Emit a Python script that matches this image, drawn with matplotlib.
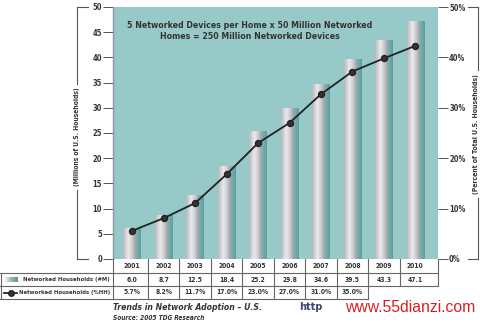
import numpy as np
import matplotlib
matplotlib.use("Agg")
import matplotlib.pyplot as plt
from matplotlib import font_manager
from matplotlib.colors import LinearSegmentedColormap
from matplotlib import transforms
from matplotlib.lines import Line2D

# condensed face if one is installed, Roboto otherwise
condensed = any(f.name == 'DejaVu Sans' and f.stretch == 'condensed'
                for f in font_manager.fontManager.ttflist)
if condensed:
    plt.rcParams['font.family'] = ['DejaVu Sans']
    plt.rcParams['font.stretch'] = 'condensed'
else:
    plt.rcParams['font.family'] = ['Roboto', 'DejaVu Sans']

# data
years = ['2001', '2002', '2003', '2004', '2005', '2006', '2007', '2008', '2009', '2010']
households_m = [6.0, 8.7, 12.5, 18.4, 25.2, 29.8, 34.6, 39.5, 43.3, 47.1]
# percent line as drawn in the chart
households_pct = [5.6, 8.1, 11.1, 16.8, 23.0, 27.0, 32.7, 37.2, 39.8, 42.3]
# table labels for percent row
pct_labels = ['5.7%', '8.2%', '11.7%', '17.0%', '23.0%', '27.0%', '31.0%', '35.0%', '', '']
left_ticks = list(range(0, 55, 5))
right_ticks = ['0%', '10%', '20%', '30%', '40%', '50%']

W, H = 480, 322
fig = plt.figure(figsize=(W / 100, H / 100), dpi=100)
fig.patch.set_facecolor('white')
renderer = fig.canvas.get_renderer()
TXT = '#333333'


def fx(px):
    return px / W


def fy(py):
    return 1 - py / H


def fit(t, target, vertical=False):
    # scale a text so its drawn length is `target` pixels
    bb = t.get_window_extent(renderer=renderer)
    cur = bb.height if vertical else bb.width
    t.set_fontsize(t.get_fontsize() * target / cur)
    return t.get_fontsize()


def size_for(s, target, **kw):
    t = fig.text(0, 0, s, fontsize=10, **kw)
    size = fit(t, target)
    t.remove()
    return size


def bracket(xb, xs, label):
    # vertical bracket line broken around the rotated label
    bb = label.get_window_extent(renderer=renderer)
    top, bot = H - bb.y1 - 4, H - bb.y0 + 4
    for a, b in ((7, top), (bot, 259)):
        fig.add_artist(Line2D([fx(xb), fx(xb)], [fy(a), fy(b)], color='#555555', lw=0.8))
    for yy in (7, 259):
        fig.add_artist(Line2D([fx(xb), fx(xs)], [fy(yy), fy(yy)], color='#555555', lw=0.8))


ax = fig.add_axes([fx(113), fy(259), (438 - 113) / W, (259 - 7) / H])
ax.set_facecolor('#98c9c9')
x = np.arange(len(years))

# bars: gradient cylinder with teal shade on the right
bar_cmap = LinearSegmentedColormap.from_list('bar', [
    (0.0, '#b9b8bc'), (0.3, '#eceaee'), (0.55, '#c4c3c6'),
    (0.68, '#a3a5a7'), (0.72, '#7fb1b0'), (1.0, '#5f9e9c')])
grad = np.linspace(0, 1, 64).reshape(1, -1)
bw = 0.56
for xi, h in zip(x, households_m):
    ax.imshow(grad, cmap=bar_cmap, aspect='auto', interpolation='bilinear',
              extent=[xi - bw / 2, xi + bw / 2, 0, h], zorder=2)
ax.set_xlim(-0.61, 9.72)
ax.set_ylim(0, 50)

# percent line (same 0-50 scale)
ax.plot(x, households_pct, color='#222222', lw=1.3, marker='o', ms=4.3,
        mfc='#333333', mec='#222222', zorder=4)

tick_fs = size_for('50', 9.5, fontweight='bold')
ax.set_yticks(left_ticks)
ax.set_yticklabels([str(t) for t in left_ticks], fontsize=tick_fs, fontweight='bold', color=TXT)
ax.tick_params(axis='y', length=7, width=0.7, color='#555555', pad=1)
ax.set_xticks([])
for s in ['top', 'right', 'bottom']:
    ax.spines[s].set_visible(False)
ax.spines['left'].set_color('#8a9a9a')
ax.spines['left'].set_linewidth(1.0)

ax2 = ax.twinx()
ax2.set_ylim(0, 50)
ax2.set_yticks(range(0, 60, 10))
ax2.set_yticklabels(right_ticks, fontsize=tick_fs, fontweight='bold', color=TXT)
ax2.tick_params(axis='y', length=7, width=0.7, color='#555555', pad=1)
for s in ax2.spines.values():
    s.set_visible(False)

title = ax.text(0.42, 0.905, '5 Networked Devices per Home x 50 Million Networked\nHomes = 250 Million Networked Devices',
                transform=ax.transAxes, ha='center', va='center', fontsize=8, fontweight='bold',
                color=TXT, linespacing=1.2, zorder=5)
fit(title, 246)

# axis labels with brackets
yl = fig.text(fx(77), fy(137), '(Millions of U.S. Households)', rotation=90, ha='center', va='center',
              fontsize=6, fontweight='bold', color=TXT)
fit(yl, 100, vertical=True)
bracket(77, 88, yl)
yr_lab = fig.text(fx(476), fy(134), '(Percent of Total U.S. Households)', rotation=90, ha='center',
                  va='center', fontsize=6, fontweight='bold', color=TXT)
fit(yr_lab, 122, vertical=True)
bracket(478, 468, yr_lab)

# data table under the plot
bt = transforms.blended_transform_factory(ax.transData, fig.transFigure)
tc = '#666666'
r0, r1, r2, r3 = fy(259), fy(273), fy(286), fy(299)
xl, xr = -0.61, 9.72
for r in (r1, r2, r3):
    fig.add_artist(Line2D([fx(0), fx(113)], [r, r], color=tc, lw=0.8))
fig.add_artist(Line2D([fx(1), fx(1)], [r1, r3], color=tc, lw=0.8))
fig.add_artist(Line2D([xl, xr], [r1, r1], color=tc, lw=0.8, transform=bt))
fig.add_artist(Line2D([xl, xr], [r2, r2], color=tc, lw=0.8, transform=bt))
fig.add_artist(Line2D([xl, 7.5], [r3, r3], color=tc, lw=0.8, transform=bt))
fig.add_artist(Line2D([xl, xl], [r0, r3], color=tc, lw=0.8, transform=bt))
for i in range(len(years)):
    xb = i + 0.5 if i < len(years) - 1 else xr
    bottom = r3 if i < 8 else r2
    fig.add_artist(Line2D([xb, xb], [r0, bottom], color=tc, lw=0.8, transform=bt))
cell_fs = size_for('2001', 17, fontweight='bold')
for i, (yr, m, p) in enumerate(zip(years, households_m, pct_labels)):
    fig.text(i, (r0 + r1) / 2, yr, transform=bt, ha='center', va='center', fontsize=cell_fs,
             fontweight='bold', color=TXT)
    fig.text(i, (r1 + r2) / 2, f'{m:.1f}', transform=bt, ha='center', va='center', fontsize=cell_fs,
             fontweight='bold', color=TXT)
    if p:
        fig.text(i, (r2 + r3) / 2, p, transform=bt, ha='center', va='center', fontsize=cell_fs,
                 fontweight='bold', color=TXT)

# legend cells
sw = fig.add_axes([fx(4), r2 + (r1 - r2) * 0.3, fx(14), (r1 - r2) * 0.4])
sw.imshow(grad, cmap=LinearSegmentedColormap.from_list('sw', ['#ffffff', '#a9b4b6', '#5f8e8e']),
          aspect='auto')
sw.axis('off')
fig.add_artist(Line2D([fx(4), fx(10.5), fx(17)], [(r2 + r3) / 2] * 3, color='#222222', lw=1.3,
                      marker='o', ms=4, markevery=[1], markerfacecolor='#333333'))
l1 = fig.text(fx(110), (r1 + r2) / 2, 'Networked Households (#M)', ha='right', va='center',
              fontsize=6, fontweight='bold', color=TXT)
l2 = fig.text(fx(110), (r2 + r3) / 2, 'Networked Households (%HH)', ha='right', va='center',
              fontsize=6, fontweight='bold', color=TXT)
fit(l2, 91)
l1.set_fontsize(l2.get_fontsize())

# captions
c1 = fig.text(fx(113), fy(307), 'Trends in Network Adoption \u2013 U.S.', ha='left', va='center',
              fontsize=8, fontweight='bold', style='italic', color=TXT)
c2 = fig.text(fx(113), fy(317.5), 'Source: 2005 TDG Research', ha='left', va='center',
              fontsize=6, fontweight='bold', style='italic', color=TXT)
fit(c1, 150)
fit(c2, 92)

# watermark
w1 = fig.text(fx(299), fy(307), 'http', ha='left', va='center', fontsize=9, fontweight='bold',
              color='#3a4570', family=['DejaVu Sans'], stretch='normal')
w2 = fig.text(fx(345), fy(307), 'www.55dianzi.com', ha='left', va='center', fontsize=11,
              color='#d42020', family=['Liberation Sans', 'DejaVu Sans'], stretch='normal')
fit(w1, 23)
fit(w2, 130)

fig.savefig('out.png', dpi=100)
